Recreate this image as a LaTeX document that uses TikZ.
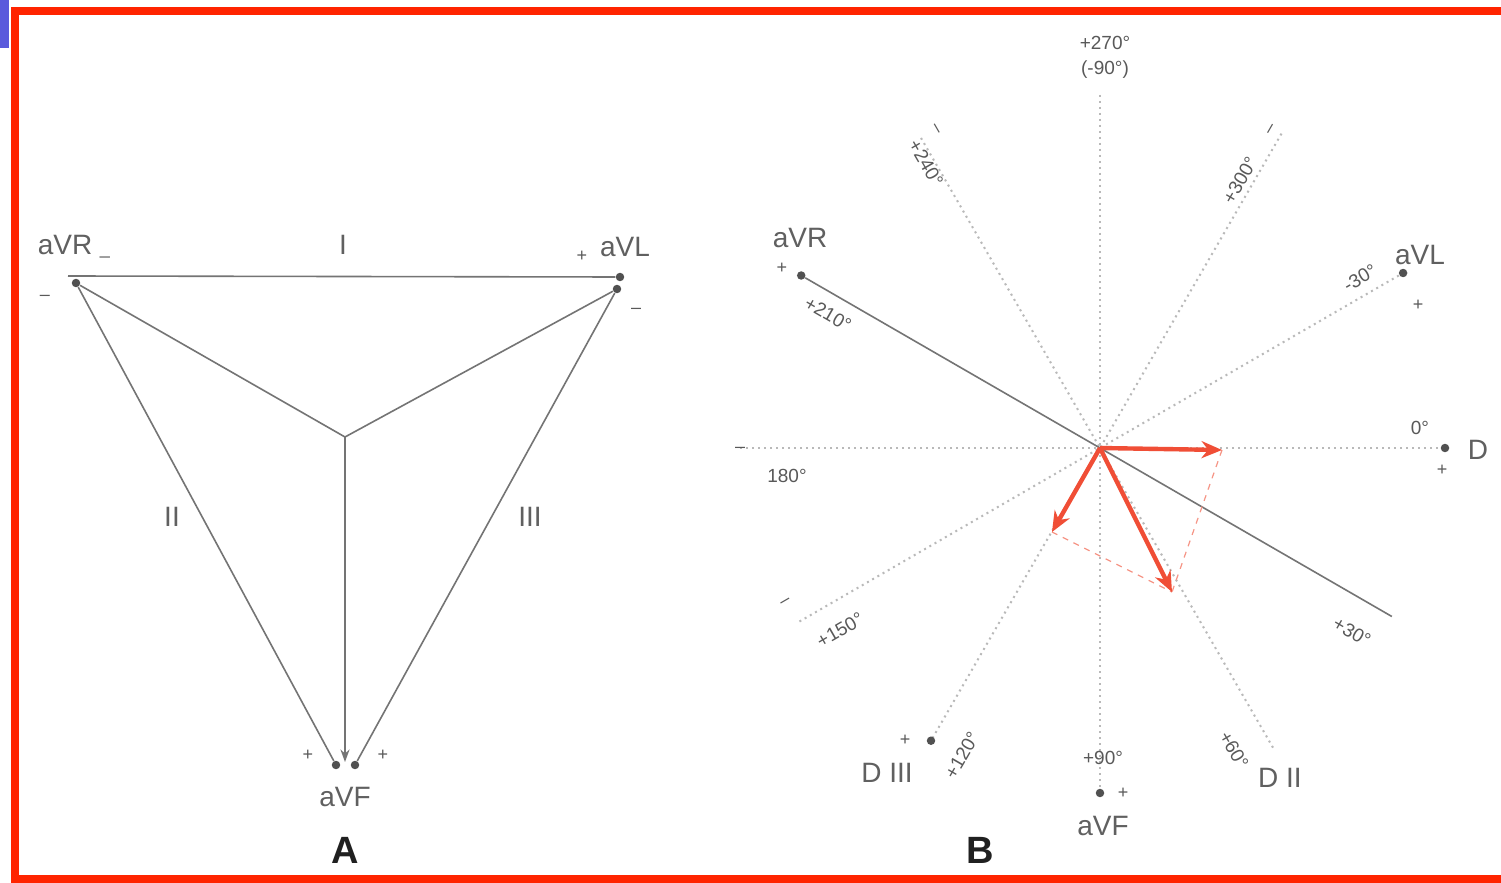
\documentclass[tikz,border=0pt]{standalone}
\usepackage{fontspec}
\setmainfont{Liberation Sans}
\usepackage{tikz}
\usetikzlibrary{arrows.meta, positioning, calc}
\definecolor{frameRed}{HTML}{FF2400}
\definecolor{vecRed}{HTML}{F04E36}
\definecolor{leadGray}{HTML}{747474}
\definecolor{cornerBlue}{HTML}{5A5ADC}

\begin{document}
\begin{tikzpicture}[
    x=0.5pt, y=-0.5pt,
    lead/.style={leadGray, line width=0.8pt},
    leadarrow/.style={lead, -{Stealth[length=2.2mm, width=1.6mm]}},
    axis/.style={gray!55, dotted, line width=1pt},
    vec/.style={vecRed, line width=2.2pt, -{Stealth[length=3.6mm, width=3mm]}},
    proj/.style={vecRed!60, dashed, line width=0.6pt},
    lbl/.style={text=gray!75!black, font=\fontsize{14}{14}\selectfont, inner sep=1pt},
    ang/.style={text=gray!70!black, font=\fontsize{9.5}{9.5}\selectfont, inner sep=1pt},
    sgn/.style={text=gray!70!black, font=\fontsize{9}{9}\selectfont, inner sep=0.5pt},
    pole/.style={circle, fill=leadGray!70!black, inner sep=1.5pt},
    panel/.style={font=\fontsize{19}{19}\selectfont\bfseries, text=gray!25!black},
]
\useasboundingbox (0,0) rectangle (1501,883);
\fill[white] (0,0) rectangle (1501,883);

% Frame
\fill[cornerBlue] (0,0) rectangle (9,48);
\draw[frameRed, line width=4pt] (1501,11) -- (15,11) -- (15,879) -- (1501,879);

% ---------- A: triangle ----------
\coordinate (ctr) at (345,437);
\node[pole] (aR) at (76,283) {};
\node[pole] (aL) at (620,277) {};
\node[pole] (aL2) at (617,289) {};
\node[pole] (fL) at (336,765) {};
\node[pole] (fR) at (355,765) {};
\coordinate (fC) at (345,762);
\coordinate (aTop) at (68,276);

\draw[lead] (aTop) -- (aL);
\draw[lead] (aR) -- (fL);
\draw[lead] (aL2) -- (fR);
\draw[lead] (ctr) -- (aR);
\draw[lead] (ctr) -- (aL2);
\draw[leadarrow] (ctr) -- (fC);

\node[lbl] (tR) at (65,245) {aVR};
\node[sgn] (tRs) at (105,256) {\_};
\node[lbl] (tI) at (343,245) {I};
\node[lbl] (tL) at (625,247) {aVL};
\node[sgn] (tLs) at (582,256) {+};
\node[sgn] (tRm) at (45,298) {--};
\node[sgn] (tLm) at (636,311) {--};
\node[lbl] (tII) at (172,517) {II};
\node[lbl] (tIII) at (530,517) {III};
\node[sgn] (tFl) at (308,755) {+};
\node[sgn] (tFr) at (383,755) {+};
\node[lbl] (tF) at (345,797) {aVF};
\node[panel] (pA) at (345,850) {A};

% ---------- B: hexaxial system ----------
\coordinate (O) at (1100,448);
\draw[axis] ($(O)+(180:360)$) -- ($(O)+(0:340)$);
\draw[axis] ($(O)+(270:353)$) -- ($(O)+(90:342)$);
\draw[axis] ($(O)+(240:358)$) -- ($(O)+(60:348)$);
\draw[axis] ($(O)+(300:363)$) -- ($(O)+(120:338)$);
\draw[axis] ($(O)+(150:347)$) -- ($(O)+(330:350)$);
\node[pole] (bR) at ($(O)+(210:345)$) {};
\draw[lead] (bR) -- ($(O)+(30:337)$);

% poles
\node[pole] (bL) at ($(O)+(330:350)$) {};
\node[pole] (bD) at ($(O)+(0:345)$) {};
\node[pole] (bF) at ($(O)+(90:345)$) {};
\node[pole] (bIII) at ($(O)+(120:338)$) {};

% vectors
\coordinate (vI) at (1222,450);
\coordinate (vII) at (1172,592);
\coordinate (vIII) at (1052,532);
\draw[proj] (vI) -- (vII);
\draw[proj] (vIII) -- (vII);
\draw[vec] (O) -- (vI);
\draw[vec] (O) -- (vII);
\draw[vec] (O) -- (vIII);

% labels
\node[ang] (a270) at (1105,43) {+270°};
\node[ang] (a90n) at (1105,70) {(-90°)};
\node[sgn, rotate=-60] (m240) at (935,130) {--};
\node[ang, rotate=-60] (a240) at (926,163) {+240°};
\node[sgn, rotate=60] (m300) at (1272,130) {--};
\node[ang, rotate=60] (a300) at (1240,180) {+300°};
\node[lbl] (bRt) at (800,238) {aVR};
\node[sgn] (bRs) at (782,268) {+};
\node[ang, rotate=-30] (a210) at (828,314) {+210°};
\node[lbl] (bLt) at (1420,255) {aVL};
\node[ang, rotate=30] (a330) at (1360,278) {-30°};
\node[sgn] (bLs) at (1418,305) {+};
\node[ang] (a0) at (1420,428) {0°};
\node[lbl] (bDt) at (1478,450) {D};
\node[sgn] (bDs) at (1442,470) {+};
\node[sgn] (m180) at (740,450) {--};
\node[ang] (a180) at (787,476) {180°};
\node[sgn, rotate=30] (m150) at (786,603) {--};
\node[ang, rotate=30] (a150) at (840,630) {+150°};
\node[ang, rotate=-30] (a30) at (1352,632) {+30°};
\node[ang, rotate=60] (a120) at (962,755) {+120°};
\node[sgn] (bIIIs) at (905,740) {+};
\node[lbl] (bIIIt) at (887,773) {D III};
\node[ang, rotate=-60] (a60) at (1234,750) {+60°};
\node[lbl] (bIIt) at (1280,778) {D II};
\node[ang] (a90) at (1103,758) {+90°};
\node[sgn] (bFs) at (1123,793) {+};
\node[lbl] (bFt) at (1103,826) {aVF};
\node[panel] (pB) at (980,850) {B};
\end{tikzpicture}
\end{document}
